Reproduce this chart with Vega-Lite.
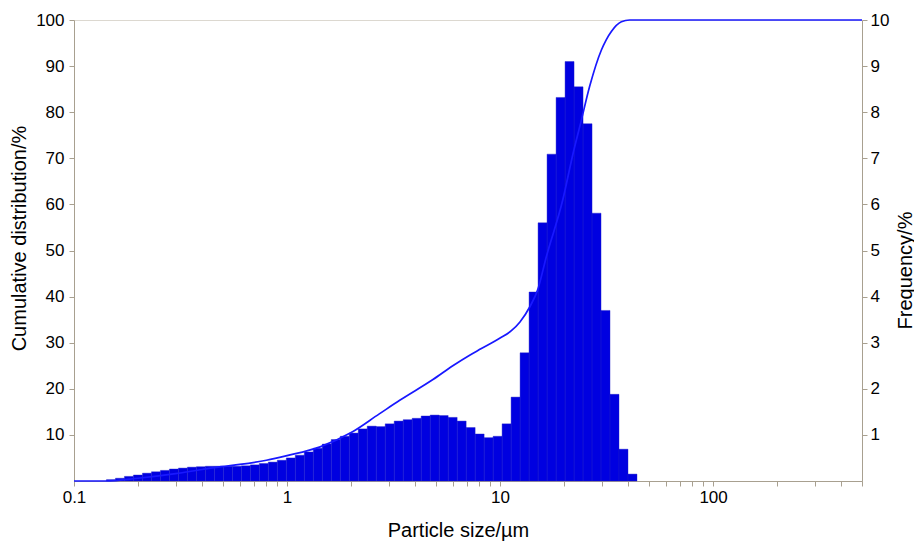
{
  "$schema": "https://vega.github.io/schema/vega-lite/v6.json",
  "autosize": {"type": "none"},
  "padding": {"left": 74, "top": 20, "right": 52, "bottom": 60},
  "width": 788,
  "height": 461,
  "background": "white",
  "config": {
    "view": {"stroke": "#dcd8d0", "strokeWidth": 1},
    "axis": {
      "domainColor": "#a8a090",
      "tickColor": "#a8a090",
      "labelColor": "#000000",
      "titleColor": "#000000",
      "labelFont": "Liberation Sans",
      "titleFont": "Liberation Sans",
      "labelFontSize": 17,
      "titleFontSize": 20,
      "titleFontWeight": "normal",
      "grid": false,
      "tickSize": 5,
      "labelOverlap": false,
      "labelFlush": false,
      "labelBound": false
    }
  },
  "datasets": {
    "bins": [
      {"x0": 0.1420, "x1": 0.1565, "f": 0.03},
      {"x0": 0.1565, "x1": 0.1725, "f": 0.06},
      {"x0": 0.1725, "x1": 0.1901, "f": 0.10},
      {"x0": 0.1901, "x1": 0.2096, "f": 0.13},
      {"x0": 0.2096, "x1": 0.2310, "f": 0.17},
      {"x0": 0.2310, "x1": 0.2545, "f": 0.20},
      {"x0": 0.2545, "x1": 0.2805, "f": 0.23},
      {"x0": 0.2805, "x1": 0.3092, "f": 0.26},
      {"x0": 0.3092, "x1": 0.3407, "f": 0.28},
      {"x0": 0.3407, "x1": 0.3755, "f": 0.30},
      {"x0": 0.3755, "x1": 0.4138, "f": 0.31},
      {"x0": 0.4138, "x1": 0.4560, "f": 0.32},
      {"x0": 0.4560, "x1": 0.5025, "f": 0.32},
      {"x0": 0.5025, "x1": 0.5538, "f": 0.32},
      {"x0": 0.5538, "x1": 0.6104, "f": 0.32},
      {"x0": 0.6104, "x1": 0.6726, "f": 0.33},
      {"x0": 0.6726, "x1": 0.7413, "f": 0.35},
      {"x0": 0.7413, "x1": 0.8169, "f": 0.38},
      {"x0": 0.8169, "x1": 0.9002, "f": 0.41},
      {"x0": 0.9002, "x1": 0.9922, "f": 0.45},
      {"x0": 0.9922, "x1": 1.0934, "f": 0.50},
      {"x0": 1.0934, "x1": 1.2050, "f": 0.56},
      {"x0": 1.2050, "x1": 1.3280, "f": 0.63},
      {"x0": 1.3280, "x1": 1.4636, "f": 0.71},
      {"x0": 1.4636, "x1": 1.6130, "f": 0.80},
      {"x0": 1.6130, "x1": 1.7775, "f": 0.90},
      {"x0": 1.7775, "x1": 1.9590, "f": 0.97},
      {"x0": 1.9590, "x1": 2.1590, "f": 1.04},
      {"x0": 2.1590, "x1": 2.3792, "f": 1.13},
      {"x0": 2.3792, "x1": 2.6222, "f": 1.19},
      {"x0": 2.6222, "x1": 2.8897, "f": 1.18},
      {"x0": 2.8897, "x1": 3.1846, "f": 1.24},
      {"x0": 3.1846, "x1": 3.5096, "f": 1.30},
      {"x0": 3.5096, "x1": 3.8676, "f": 1.33},
      {"x0": 3.8676, "x1": 4.2626, "f": 1.36},
      {"x0": 4.2626, "x1": 4.6989, "f": 1.41},
      {"x0": 4.6989, "x1": 5.1783, "f": 1.43},
      {"x0": 5.1783, "x1": 5.7069, "f": 1.42},
      {"x0": 5.7069, "x1": 6.2893, "f": 1.38},
      {"x0": 6.2893, "x1": 6.9310, "f": 1.30},
      {"x0": 6.9310, "x1": 7.6384, "f": 1.16},
      {"x0": 7.6384, "x1": 8.4175, "f": 1.02},
      {"x0": 8.4175, "x1": 9.2767, "f": 0.94},
      {"x0": 9.2767, "x1": 10.223, "f": 0.97},
      {"x0": 10.223, "x1": 11.267, "f": 1.24},
      {"x0": 11.267, "x1": 12.416, "f": 1.82},
      {"x0": 12.416, "x1": 13.683, "f": 2.78},
      {"x0": 13.683, "x1": 15.080, "f": 4.10},
      {"x0": 15.080, "x1": 16.619, "f": 5.60},
      {"x0": 16.619, "x1": 18.321, "f": 7.09},
      {"x0": 18.321, "x1": 20.190, "f": 8.32},
      {"x0": 20.190, "x1": 22.250, "f": 9.10},
      {"x0": 22.250, "x1": 24.520, "f": 8.55},
      {"x0": 24.520, "x1": 27.023, "f": 7.75},
      {"x0": 27.023, "x1": 29.779, "f": 5.81},
      {"x0": 29.779, "x1": 32.818, "f": 3.70},
      {"x0": 32.818, "x1": 36.167, "f": 1.88},
      {"x0": 36.167, "x1": 39.857, "f": 0.69},
      {"x0": 39.857, "x1": 43.924, "f": 0.15}
    ],
    "cum": [
      {"size": 0.1, "c": 0},
      {"size": 0.14, "c": 0},
      {"size": 0.2, "c": 0.6},
      {"size": 0.3, "c": 1.6},
      {"size": 0.4, "c": 2.5},
      {"size": 0.49, "c": 3.1},
      {"size": 0.6, "c": 3.6},
      {"size": 0.8, "c": 4.5},
      {"size": 1.0, "c": 5.5},
      {"size": 1.43, "c": 7.4},
      {"size": 2.0, "c": 10.5},
      {"size": 2.7, "c": 14.5},
      {"size": 3.38, "c": 17.5},
      {"size": 4.84, "c": 22.0},
      {"size": 6.0, "c": 25.0},
      {"size": 7.2, "c": 27.3},
      {"size": 8.0, "c": 28.5},
      {"size": 10.0, "c": 31.0},
      {"size": 11.3, "c": 32.6},
      {"size": 12.4, "c": 34.5},
      {"size": 13.8, "c": 37.8},
      {"size": 15.0, "c": 41.4},
      {"size": 16.5, "c": 48.7},
      {"size": 19.7, "c": 61.0},
      {"size": 22.0, "c": 71.0},
      {"size": 24.0, "c": 78.0},
      {"size": 26.3, "c": 85.5},
      {"size": 29.9, "c": 93.5},
      {"size": 31.5, "c": 95.7},
      {"size": 33.3, "c": 97.5},
      {"size": 37.1, "c": 99.6},
      {"size": 40.6, "c": 100},
      {"size": 500, "c": 100}
    ]
  },
  "layer": [
    {
      "data": {"name": "bins"},
      "mark": {"type": "rect", "color": "#0000e0", "stroke": "#1c1cc8", "strokeWidth": 0.4},
      "encoding": {
        "x": {
          "field": "x0", "type": "quantitative",
          "scale": {"type": "log", "domain": [0.1, 500], "nice": false},
          "axis": {
            "title": "Particle size/\u00b5m",
            "values": [0.1,0.2,0.3,0.4,0.5,0.6,0.7,0.8,0.9,1,2,3,4,5,6,7,8,9,10,20,30,40,50,60,70,80,90,100,200,300,400,500],
            "format": "~g",
            "labelExpr": "(datum.value == 0.1 || datum.value == 1 || datum.value == 10 || datum.value == 100) ? datum.label : ''",
            "labelPadding": 3,
            "titleX": 384,
            "titleY": 49,
            "titleBaseline": "middle",
            "titleAlign": "center"
          }
        },
        "x2": {"field": "x1"},
        "y": {
          "field": "f", "type": "quantitative",
          "scale": {"domain": [0, 10], "nice": false},
          "axis": {
            "orient": "right",
            "title": "Frequency/%",
            "values": [1,2,3,4,5,6,7,8,9,10],
            "labelPadding": 3,
            "titleAngle": 270,
            "titleX": 43,
            "titleY": 250,
            "titleBaseline": "middle",
            "titleAlign": "center"
          }
        },
        "y2": {"datum": 0}
      }
    },
    {
      "data": {"name": "cum"},
      "mark": {"type": "line", "color": "#1818ff", "strokeWidth": 1.7, "interpolate": "monotone"},
      "encoding": {
        "x": {"field": "size", "type": "quantitative"},
        "y": {
          "field": "c", "type": "quantitative",
          "scale": {"domain": [0, 100], "nice": false},
          "axis": {
            "orient": "left",
            "title": "Cumulative distribution/%",
            "values": [10,20,30,40,50,60,70,80,90,100],
            "labelPadding": 5,
            "titleAngle": 270,
            "titleX": -55,
            "titleY": 218,
            "titleBaseline": "middle",
            "titleAlign": "center"
          }
        }
      }
    }
  ],
  "resolve": {"scale": {"y": "independent"}, "axis": {"y": "independent"}}
}
